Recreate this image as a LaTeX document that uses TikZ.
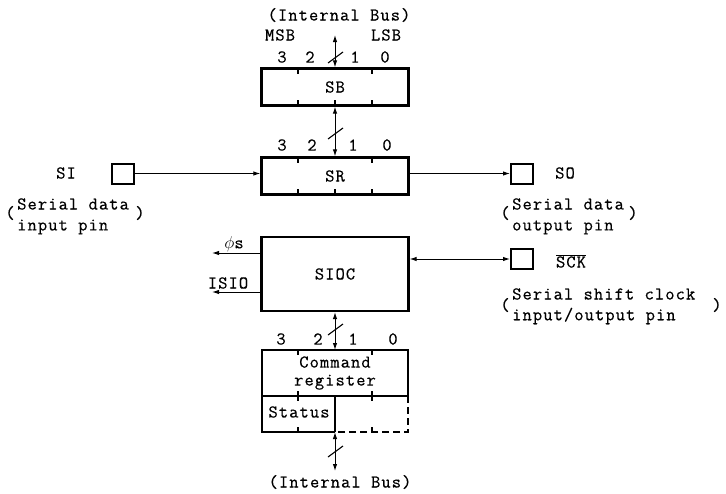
\documentclass[tikz,border=0pt]{standalone}
\usepackage{fontspec}
\usetikzlibrary{arrows.meta}
\newfontfamily\typewr{Latin Modern Mono}[LetterSpace=6,FakeBold=0.5]
\newcommand{\typefont}{\typewr\fontsize{18}{22}\selectfont}
\begin{document}
\begin{tikzpicture}[x=1pt,y=-1pt,
  every node/.style={font=\typefont, inner sep=0pt},
  regbox/.style={draw, line width=2.2pt, minimum width=147pt, minimum height=37pt},
  pinbox/.style={draw, line width=2pt, minimum width=22pt, minimum height=20pt},
  conn/.style={line width=1pt, arrows={-Latex[length=7pt,width=4.5pt]}},
  biconn/.style={line width=1pt, arrows={Latex[length=7pt,width=4.5pt]-Latex[length=7pt,width=4.5pt]}},
  tick/.style={line width=1.3pt},
  busslash/.style={line width=1.1pt}]
\useasboundingbox (0,0) rectangle (726,493);

% ---- SB
\node[regbox] (SB) at (335,87) {SB};
\node (ib1) at (339,15) {(Internal Bus)};
\node (msb) at (280,35) {MSB};
\node (lsb) at (386,35) {LSB};
\node (sb3) at (282,57) {3};
\node (sb2) at (310,57) {2};
\node (sb1) at (355,57) {1};
\node (sb0) at (385,57) {0};
\coordinate (topbus) at (335,35);
\draw[biconn] (SB.north) -- (topbus);
\draw[busslash] (328,63) -- (343,52);
\foreach \x in {298,372} \draw[tick] (\x,69) -- (\x,74);
\foreach \x in {298,335,372} \draw[tick] (\x,105) -- (\x,100);

% ---- SR
\node[regbox] (SR) at (335,176) {SR};
\node (sr3) at (282,145) {3};
\node (sr2) at (312,145) {2};
\node (sr1) at (353,145) {1};
\node (sr0) at (387,145) {0};
\draw[biconn] (SB.south) -- (SR.north);
\draw[busslash] (328,139) -- (343,128);
\foreach \x in {298,372} \draw[tick] (\x,158) -- (\x,163);
\foreach \x in {298,335,372} \draw[tick] (\x,194) -- (\x,189);

% ---- SI / SO pins
\node[pinbox] (SIpin) at (122.5,173.5) {};
\node (SItext) at (66,173) {SI};
\draw[conn] (SIpin.east) -- (SIpin.east -| SR.west);
\node[anchor=west] (sil1) at (17,204) {Serial data};
\node[anchor=west] (sil2) at (17,227) {input pin};
\node (silp) at (10,213) {(};
\node (silq) at (140,213) {)};

\node[pinbox] (SOpin) at (522,173.5) {};
\node (SOtext) at (565,173) {SO};
\draw[conn] (SOpin.west -| SR.east) -- (SOpin.west);
\node[anchor=west] (sol1) at (512,204) {Serial data};
\node[anchor=west] (sol2) at (512,227) {output pin};
\node (solp) at (505,213) {(};
\node (solq) at (633,213) {)};

% ---- SIOC
\node[regbox, minimum height=74pt] (SIOC) at (335,274) {SIOC};
\coordinate (phiend) at (212,253);
\coordinate (isioend) at (212,292);
\draw[conn] (SIOC.west |- phiend) -- (phiend);
\draw[conn] (SIOC.west |- isioend) -- (isioend);
\node (phis) at (234,244) {$\phi$s};
\node (isio) at (228,283) {ISIO};

\node[pinbox] (SCKpin) at (522,259) {};
\node (SCKtext) at (571,261) {$\overline{\mbox{SCK}}$};
\draw[biconn] (SIOC.east |- SCKpin) -- (SCKpin.west);
\node[anchor=west] (sckl1) at (512,294) {Serial shift clock};
\node[anchor=west] (sckl2) at (512,316) {input/output pin};
\node (scklp) at (505,305) {(};
\node (scklq) at (717,305) {)};

% ---- Command register
\coordinate (CRtop) at (335,350);
\coordinate (CRbot) at (335,432);
\node (cr3) at (281,339) {3};
\node (cr2) at (318,339) {2};
\node (cr1) at (353,339) {1};
\node (cr0) at (393,339) {0};
\draw[biconn] (SIOC.south) -- (CRtop);
\draw[busslash] (328,335) -- (343,324);
\draw[line width=2.2pt] (335,432) -- (262,432) -- (262,350) -- (408,350) -- (408,396);
\draw[line width=2.2pt, dash pattern=on 7pt off 4pt] (408,396) -- (408,432) -- (335,432);
\draw[line width=1.8pt] (262,396) -- (408,396);
\draw[line width=2.2pt] (335,396) -- (335,432);
\foreach \x in {298,372} {
  \draw[tick] (\x,350) -- (\x,355);
  \draw[tick] (\x,391) -- (\x,401);
  \draw[tick] (\x,432) -- (\x,427);
}
\node[align=center, font=\typewr\fontsize{18}{18}\selectfont] (cmd) at (335,373) {Command\\register};
\node (status) at (299,412) {Status};

% ---- bottom bus
\coordinate (botbus) at (335,471);
\draw[biconn] (CRbot) -- (botbus);
\draw[busslash] (328,457) -- (343,446);
\node (ib2) at (340,482) {(Internal Bus)};
\end{tikzpicture}
\end{document}
